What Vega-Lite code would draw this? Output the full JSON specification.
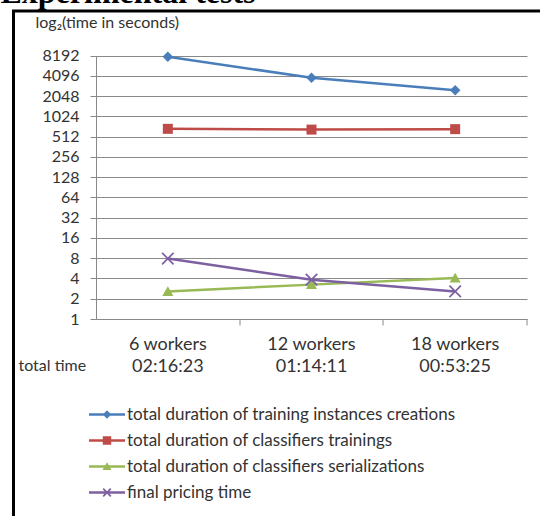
{
  "$schema": "https://vega.github.io/schema/vega-lite/v6.json",
  "width": 530,
  "height": 510,
  "autosize": {"type": "none"},
  "padding": {"left": 13.5, "top": 11, "right": 0, "bottom": 0},
  "background": "white",
  "view": {"stroke": "black", "strokeWidth": 3},
  "title": {"text": "Experimental tests", "anchor": "start", "font": "Liberation Serif", "fontSize": 32, "fontWeight": "bold", "color": "black", "baseline": "alphabetic", "offset": 0, "dx": -13, "dy": 24},
  "data": {"values": [
    {"series": "total duration of training instances creations", "workers": "6 workers", "seconds": 7850},
    {"series": "total duration of training instances creations", "workers": "12 workers", "seconds": 3820},
    {"series": "total duration of training instances creations", "workers": "18 workers", "seconds": 2500},
    {"series": "total duration of classifiers trainings", "workers": "6 workers", "seconds": 667},
    {"series": "total duration of classifiers trainings", "workers": "12 workers", "seconds": 650},
    {"series": "total duration of classifiers trainings", "workers": "18 workers", "seconds": 660},
    {"series": "total duration of classifiers serializations", "workers": "6 workers", "seconds": 2.57},
    {"series": "total duration of classifiers serializations", "workers": "12 workers", "seconds": 3.24},
    {"series": "total duration of classifiers serializations", "workers": "18 workers", "seconds": 4.07},
    {"series": "final pricing time", "workers": "6 workers", "seconds": 7.9},
    {"series": "final pricing time", "workers": "12 workers", "seconds": 3.84},
    {"series": "final pricing time", "workers": "18 workers", "seconds": 2.57}
  ]},
  "encoding": {
    "x": {
      "field": "workers", "type": "nominal",
      "sort": ["6 workers", "12 workers", "18 workers"],
      "scale": {"type": "band", "range": [82.5, 513.5], "paddingInner": 0, "paddingOuter": 0},
      "axis": {
        "bandPosition": 1, "offset": -202, "grid": false,
        "domainColor": "#898989", "tickColor": "#898989", "tickSize": 6,
        "labelPadding": 10, "labelBaseline": "top", "labelLineHeight": 22.5, "labelAngle": 0,
        "labelExpr": "[datum.label, datum.label == '6 workers' ? '02:16:23' : datum.label == '12 workers' ? '01:14:11' : '00:53:25']",
        "labelFont": "Lato", "labelFontSize": 18, "labelColor": "#333333",
        "title": "total time", "titleX": 4.5, "titleY": 46.5, "titleAlign": "left", "titleBaseline": "middle",
        "titleFont": "Lato", "titleFontSize": 16, "titleFontWeight": "normal", "titleColor": "#333333"
      }
    },
    "y": {
      "field": "seconds", "type": "quantitative",
      "scale": {"type": "log", "base": 2, "domain": [1, 8192], "range": [308, 44.5], "nice": false},
      "axis": {
        "values": [1, 2, 4, 8, 16, 32, 64, 128, 256, 512, 1024, 2048, 4096, 8192],
        "format": "d", "offset": -82.5, "grid": true, "gridColor": "#898989", "gridWidth": 1,
        "domainColor": "#898989", "tickColor": "#898989", "tickSize": 6, "labelPadding": 11,
        "labelFont": "Lato", "labelFontSize": 16, "labelColor": "#333333",
        "title": "log₂(time in seconds)", "titleAngle": 0, "titleAlign": "left", "titleBaseline": "middle",
        "titleX": -61, "titleY": 11, "titleFont": "Lato", "titleFontSize": 16, "titleFontWeight": "normal", "titleColor": "#333333"
      }
    }
  },
  "layer": [
    {
      "mark": {"type": "line", "strokeWidth": 2.5},
      "encoding": {
        "stroke": {"field": "series", "type": "nominal",
          "scale": {"domain": ["total duration of training instances creations", "total duration of classifiers trainings", "total duration of classifiers serializations", "final pricing time", "unused-stroke"], "range": ["#4A7EBB", "#BE4B48", "#98B954", "#7D60A0", "#000000"]},
          "legend": null}
      }
    },
    {
      "mark": {"type": "point", "filled": true, "opacity": 1, "size": 100, "strokeWidth": 0},
      "encoding": {
        "fill": {"field": "series", "type": "nominal",
          "scale": {"domain": ["total duration of training instances creations", "total duration of classifiers trainings", "total duration of classifiers serializations", "final pricing time", "unused-fill"], "range": ["#4A7EBB", "#BE4B48", "#98B954", "#7D60A0", "#000000"]},
          "legend": null},
        "shape": {
          "condition": [
            {"test": "datum.series === 'total duration of training instances creations'", "value": "M0,-1.05L1.05,0L0,1.05L-1.05,0Z"},
            {"test": "datum.series === 'total duration of classifiers trainings'", "value": "M-1,-1H1V1H-1Z"},
            {"test": "datum.series === 'total duration of classifiers serializations'", "value": "M0,-1.05L1.1,0.9H-1.1Z"}
          ],
          "value": "M-1.03,-1.27L1.27,1.03L1.03,1.27L-1.27,-1.03ZM1.03,-1.27L1.27,-1.03L-1.03,1.27L-1.27,1.03Z"}
      }
    },
    {
      "transform": [{"filter": "datum.seconds < 0"}],
      "mark": {"type": "point", "filled": true, "opacity": 1, "size": 400, "strokeWidth": 0},
      "encoding": {
        "color": {"field": "series", "type": "nominal",
          "scale": {"domain": ["total duration of training instances creations", "total duration of classifiers trainings", "total duration of classifiers serializations", "final pricing time"], "range": ["#4A7EBB", "#BE4B48", "#98B954", "#7D60A0"]},
          "legend": {"orient": "none", "legendX": 83.5, "legendY": 393.5, "title": null, "direction": "vertical", "labelFont": "Lato", "labelFontSize": 17, "labelColor": "#333333", "labelLimit": 1000, "labelOffset": 10, "rowPadding": 8, "padding": 0, "symbolStrokeWidth": 0, "symbolSize": 400}},
        "shape": {"field": "series", "type": "nominal",
          "scale": {"domain": ["total duration of training instances creations", "total duration of classifiers trainings", "total duration of classifiers serializations", "final pricing time"], "range": ["M-1.8,-0.13H1.8V0.13H-1.8ZM0,-0.42L0.42,0L0,0.42L-0.42,0Z", "M-1.8,-0.13H1.8V0.13H-1.8ZM-0.42,-0.42H0.42V0.42H-0.42Z", "M-1.8,-0.13H1.8V0.13H-1.8ZM0,-0.42L0.45,0.36H-0.45Z", "M-1.8,-0.13H1.8V0.13H-1.8ZM-0.32,-0.44L0.44,0.32L0.32,0.44L-0.44,-0.32ZM0.32,-0.44L0.44,-0.32L-0.32,0.44L-0.44,0.32Z"]},
          "legend": {"orient": "none", "legendX": 83.5, "legendY": 393.5, "title": null, "direction": "vertical", "labelFont": "Lato", "labelFontSize": 17, "labelColor": "#333333", "labelLimit": 1000, "labelOffset": 10, "rowPadding": 8, "padding": 0, "symbolStrokeWidth": 0, "symbolSize": 400}}
      }
    }
  ]
}
